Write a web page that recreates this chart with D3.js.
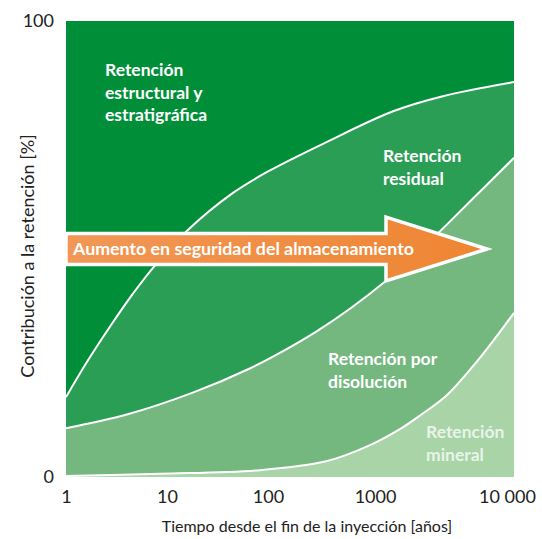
<!DOCTYPE html>
<html>
<head>
<meta charset="utf-8">
<script src="https://cdn.jsdelivr.net/npm/d3@7"></script>
<style>
  body { margin: 0; background: #fff; }
  svg { display: block; }
  text { font-family: Lato, "Open Sans", sans-serif; }
</style>
</head>
<body>
<svg id="chart"></svg>
<script>
// x axis (years, log) and y axis (%)
const tickYears = [1, 10, 100, 1000, 10000];
const tickLabels = ["1", "10", "100", "1000", "10 000"];
const pctTicks = [0, 100];

// upper boundary of each band
const residualTopYears = [1, 1.61, 2.73, 4.6, 7.1, 15.8, 45, 100, 356, 1350, 3080, 10000];
const residualTopPct   = [17.5, 25.2, 33.0, 40.2, 45.6, 54.0, 62.3, 67.0, 73.5, 80.2, 83.5, 86.6];

const dissolutionTopYears = [1, 4.0, 18, 66, 138, 287, 583, 1220, 1940, 3030, 4820, 10000];
const dissolutionTopPct   = [10.7, 13.7, 18.5, 23.8, 27.6, 32.0, 36.9, 43.2, 48.6, 54.3, 60.4, 70.0];

const mineralTopYears = [1, 8.5, 83, 356, 898, 1510, 2110, 3300, 5070, 7060, 10000];
const mineralTopPct   = [0.2, 0.7, 1.5, 3.5, 7, 10.5, 13.5, 18, 24.3, 29.8, 36];

const bandColors = ["#008f38", "#2b9e56", "#74b87f", "#a9d4a7"];

const bandLabels = [
    ["Retención", "estructural y", "estratigráfica"],
    ["Retención", "residual"],
    ["Retención por", "disolución"],
    ["Retención", "mineral"],
];
const arrowText = "Aumento en seguridad del almacenamiento";

// arrow: years of start, head base and tip; % of centre and half heights
const arrowYears = [1, 1200, 6400];
const arrowPct = [50, 3.4, 7];

const width = 542, height = 539;
const margin = {top: 21, right: 28, bottom: 62, left: 66};

const svg = d3.select("#chart")
    .attr("width", width)
    .attr("height", height);

const x = d3.scaleLog()
    .domain(tickYears)
    .range([0, 101, 202, 309, 448].map(d => d + margin.left));

const y = d3.scaleLinear()
    .domain([0, 100])
    .range([height - margin.bottom, margin.top]);

const pts = (xs, ys) => xs.map((d, i) => [d, ys[i]]);
const curves = [
    pts(residualTopYears, residualTopPct),
    pts(dissolutionTopYears, dissolutionTopPct),
    pts(mineralTopYears, mineralTopPct),
];

const area = d3.area()
    .x(d => x(d[0]))
    .y0(y(0))
    .y1(d => y(d[1]))
    .curve(d3.curveCatmullRom.alpha(0.5));

const line = d3.line()
    .x(d => x(d[0]))
    .y(d => y(d[1]))
    .curve(d3.curveCatmullRom.alpha(0.5));

// top band as background
svg.append("rect")
    .attr("x", x(1))
    .attr("y", y(100))
    .attr("width", x(10000) - x(1))
    .attr("height", y(0) - y(100))
    .attr("fill", bandColors[0]);

curves.forEach((c, i) => {
    svg.append("path")
        .datum(c)
        .attr("d", area)
        .attr("fill", bandColors[i + 1]);
});

curves.forEach(c => {
    svg.append("path")
        .datum(c)
        .attr("d", line)
        .attr("fill", "none")
        .attr("stroke", "#fff")
        .attr("stroke-width", 2);
});

// arrow
const defs = svg.append("defs");
const grad = defs.append("linearGradient")
    .attr("id", "arrowGrad")
    .attr("x1", "0%").attr("x2", "100%")
    .attr("y1", "0%").attr("y2", "0%");
grad.append("stop").attr("offset", "0%").attr("stop-color", "#f29756");
grad.append("stop").attr("offset", "100%").attr("stop-color", "#ee8532");

const [a0, a1, a2] = arrowYears;
const [mid, shaft, head] = arrowPct;
const arrowPts = [
    [x(a0), y(mid + shaft)],
    [x(a1), y(mid + shaft)],
    [x(a1), y(mid + head)],
    [x(a2), y(mid)],
    [x(a1), y(mid - head)],
    [x(a1), y(mid - shaft)],
    [x(a0), y(mid - shaft)],
];
svg.append("polygon")
    .attr("points", arrowPts.map(p => p.join(",")).join(" "))
    .attr("fill", "url(#arrowGrad)")
    .attr("stroke", "#fff")
    .attr("stroke-width", 3.5)
    .attr("stroke-linejoin", "miter");

svg.append("text")
    .attr("x", x(a0) + 7)
    .attr("y", y(mid) + 5.5)
    .attr("fill", "#fff")
    .attr("font-weight", "bold")
    .attr("font-size", "17.8px")
    .text(arrowText);

// band labels
const labelPos = [[105, 76], [383, 162], [328, 365], [426, 438]];
bandLabels.forEach((lines, i) => {
    const t = svg.append("text")
        .attr("x", labelPos[i][0])
        .attr("y", labelPos[i][1])
        .attr("fill", "#fff")
        .attr("fill-opacity", i === 3 ? 0.75 : 1)
        .attr("font-weight", "bold")
        .attr("font-size", "17.5px");
    lines.forEach((s, j) => {
        t.append("tspan")
            .attr("x", labelPos[i][0])
            .attr("dy", j === 0 ? 0 : 22.5)
            .text(s);
    });
});

// axes
const xAxis = svg.append("g")
    .attr("transform", "translate(0," + y(0) + ")")
    .call(d3.axisBottom(x)
        .tickValues(tickYears)
        .tickFormat((d, i) => tickLabels[i])
        .tickSize(0)
        .tickPadding(13));
xAxis.select(".domain").remove();
xAxis.selectAll("text")
    .attr("font-size", "18px")
    .attr("fill", "#222")
    .style("font-family", "Lato, 'Open Sans', sans-serif");
xAxis.selectAll(".tick:last-of-type text").attr("dx", -7);

const yAxis = svg.append("g")
    .attr("transform", "translate(" + x(1) + ",0)")
    .call(d3.axisLeft(y)
        .tickValues(pctTicks)
        .tickSize(0)
        .tickPadding(12));
yAxis.select(".domain").remove();
yAxis.selectAll("text")
    .attr("font-size", "18px")
    .attr("fill", "#222")
    .style("font-family", "Lato, 'Open Sans', sans-serif");

svg.append("text")
    .attr("x", 307)
    .attr("y", 532)
    .attr("text-anchor", "middle")
    .attr("font-size", "16px")
    .attr("fill", "#222")
    .text("Tiempo desde el fin de la inyección [años]");

svg.append("text")
    .attr("transform", "translate(34,256) rotate(-90)")
    .attr("text-anchor", "middle")
    .attr("font-size", "18px")
    .attr("fill", "#222")
    .text("Contribución a la retención [%]");
</script>
</body>
</html>
